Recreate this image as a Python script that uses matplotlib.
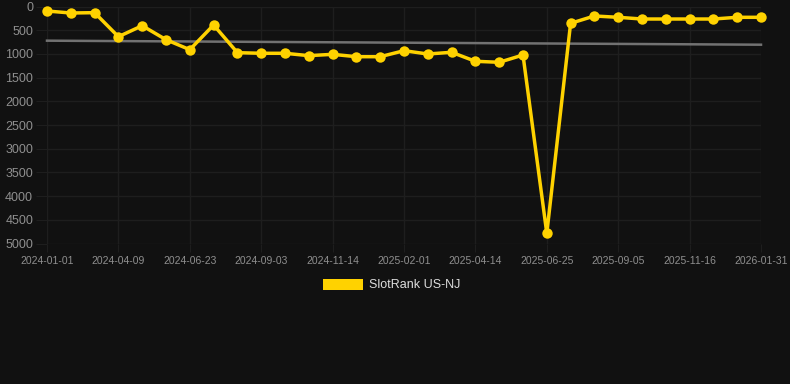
import matplotlib
matplotlib.use("Agg")
import matplotlib.pyplot as plt
import numpy as np

plt.rcParams['font.family'] = ['Liberation Sans', 'DejaVu Sans']

# ---- data ----
tick_labels = ["2024-01-01", "2024-04-09", "2024-06-23", "2024-09-03", "2024-11-14",
               "2025-02-01", "2025-04-14", "2025-06-25", "2025-09-05", "2025-11-16",
               "2026-01-31"]
rank_values = [95, 137, 130, 637, 405, 700, 911, 390, 974, 987,
               987, 1037, 1009, 1059, 1059, 932, 1002, 966, 1156, 1177,
               1023, 4785, 355, 200, 228, 264, 264, 264, 264, 228, 228]
trend_values = [721, 806]
series_name = "SlotRank US-NJ"

# ---- style ----
BG = "#111111"
YELLOW = "#FFD200"
GRID = "#1e1e1e"
TICK = "#8f8f8f"

W, H = 790, 384
fig = plt.figure(figsize=(W / 100, H / 100), dpi=100, facecolor=BG)
x0, x1 = 47, 761
y0, y1 = 6.5, 243.5
ax = fig.add_axes([x0 / W, 1 - y1 / H, (x1 - x0) / W, (y1 - y0) / H], facecolor=BG)

n = len(rank_values)
x = np.arange(n)
ax.plot([0, n - 1], trend_values, color="#727272", lw=1.8, zorder=2, clip_on=False)
ax.plot(x, rank_values, color=YELLOW, lw=2.5, marker="o", ms=7.5,
        markeredgewidth=0, zorder=3, clip_on=False, solid_joinstyle="miter")

ax.set_xlim(0, n - 1)
ax.set_ylim(5000, 0)
ax.set_yticks(np.arange(0, 5001, 500))
ax.set_yticklabels([str(v) for v in range(0, 5001, 500)])
tick_idx = np.arange(0, n, 3)
ax.set_xticks(tick_idx)
ax.set_xticklabels(tick_labels)

ax.grid(True, color=GRID, lw=1)
ax.set_axisbelow(True)
for s in ax.spines.values():
    s.set_visible(False)
ax.tick_params(axis="y", colors=GRID, labelcolor=TICK, labelsize=9, length=8, pad=2)
ax.tick_params(axis="x", colors=GRID, labelcolor=TICK, labelsize=7.5, length=6, pad=3)

# legend
from matplotlib.patches import Rectangle
fig.patches.append(Rectangle((323 / W, 1 - 290 / H), 40 / W, 11 / H,
                             transform=fig.transFigure, facecolor=YELLOW,
                             edgecolor="none"))
fig.text(369 / W, 1 - 284.5 / H, series_name, color="#dddddd", fontsize=9,
         va="center", ha="left")

fig.savefig("out.png", dpi=100, facecolor=BG)
